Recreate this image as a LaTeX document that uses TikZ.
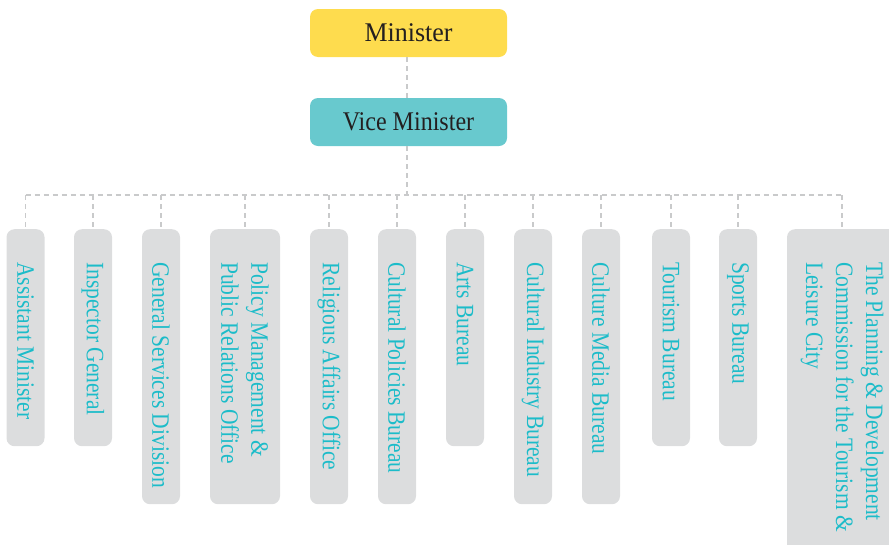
\documentclass[tikz,border=0pt]{standalone}
\usepackage{fontspec}
\setmainfont{Liberation Serif}
\newfontfamily\unitfont[FakeStretch=0.86]{Liberation Serif}
\newfontfamily\ministerfont[FakeStretch=0.96]{Liberation Serif}
\newfontfamily\vicefont[FakeStretch=0.89]{Liberation Serif}
\definecolor{headyellow}{HTML}{FEDC4E}
\definecolor{headteal}{HTML}{68C9CE}
\definecolor{unitgray}{HTML}{DCDDDE}
\definecolor{unitcyan}{HTML}{1CBCC9}
\definecolor{headtext}{HTML}{231F20}
\definecolor{linkgray}{HTML}{C9CACB}
\begin{document}
\begin{tikzpicture}[x=1pt,y=-1pt,
  headbox/.style={rounded corners=8pt, minimum width=197pt, minimum height=48pt,
    inner sep=0pt, text=headtext},
  unitbox/.style={fill=unitgray, rounded corners=8pt, rotate=-90, anchor=west,
    minimum height=38pt, inner sep=0pt},
  unitlabel/.style={rotate=-90, anchor=west, align=left, inner sep=0pt,
    text=unitcyan, font=\unitfont\fontsize{25}{30}\selectfont},
  link/.style={draw=linkgray, line width=1.3pt, dash pattern=on 5pt off 4pt}]
\useasboundingbox (0,0) rectangle (889,544);
\clip (0,0) rectangle (889,544);

% head of the ministry
\node[headbox, fill=headyellow, font=\ministerfont\fontsize{27}{30}\selectfont] (min) at (408.5,33) {Minister};
\node[headbox, fill=headteal, font=\vicefont\fontsize{27}{30}\selectfont] (vice) at (408.5,122) {Vice Minister};
\coordinate (bus) at (407,195);

% subordinate units (boxes hang from y = 229)
\node[unitbox, minimum width=217pt] (u1) at (25.5,229) {};
\node[unitbox, minimum width=217pt] (u2) at (93,229) {};
\node[unitbox, minimum width=275pt] (u3) at (161,229) {};
\node[unitbox, minimum width=275pt, minimum height=70pt] (u4) at (245,229) {};
\node[unitbox, minimum width=275pt] (u5) at (329,229) {};
\node[unitbox, minimum width=275pt] (u6) at (397,229) {};
\node[unitbox, minimum width=217pt] (u7) at (465,229) {};
\node[unitbox, minimum width=275pt] (u8) at (533,229) {};
\node[unitbox, minimum width=275pt] (u9) at (601,229) {};
\node[unitbox, minimum width=217pt] (u10) at (671,229) {};
\node[unitbox, minimum width=217pt] (u11) at (738,229) {};
\node[unitbox, minimum width=400pt, minimum height=110pt] (u12) at (842,229) {};

% unit names, read top to bottom
\node[unitlabel] (t1) at (u1.west |- 0,262) {Assistant Minister};
\node[unitlabel] (t2) at (u2.west |- 0,262) {Inspector General};
\node[unitlabel] (t3) at (u3.west |- 0,262) {General Services Division};
\node[unitlabel] (t4) at (u4.west |- 0,262) {Policy Management \&\\Public Relations Office};
\node[unitlabel] (t5) at (u5.west |- 0,262) {Religious Affairs Office};
\node[unitlabel] (t6) at (u6.west |- 0,262) {Cultural Policies Bureau};
\node[unitlabel] (t7) at (u7.west |- 0,262) {Arts Bureau};
\node[unitlabel] (t8) at (u8.west |- 0,262) {Cultural Industry Bureau};
\node[unitlabel] (t9) at (u9.west |- 0,262) {Culture Media Bureau};
\node[unitlabel] (t10) at (u10.west |- 0,262) {Tourism Bureau};
\node[unitlabel] (t11) at (u11.west |- 0,262) {Sports Bureau};
\node[unitlabel] (t12) at (u12.west |- 0,262) {The Planning \& Development\\Commission for the Tourism \&\\Leisure City};

% connectors
\draw[link] (min.south -| bus) -- (vice.north -| bus);
\draw[link] (vice.south -| bus) -- (bus);
\draw[link] (u1.west |- bus) -- (u12.west |- bus);
\foreach \u in {u1,u2,u3,u4,u5,u6,u7,u8,u9,u10,u11,u12}
  \draw[link] (\u.west |- bus) -- (\u.west);
\end{tikzpicture}
\end{document}
